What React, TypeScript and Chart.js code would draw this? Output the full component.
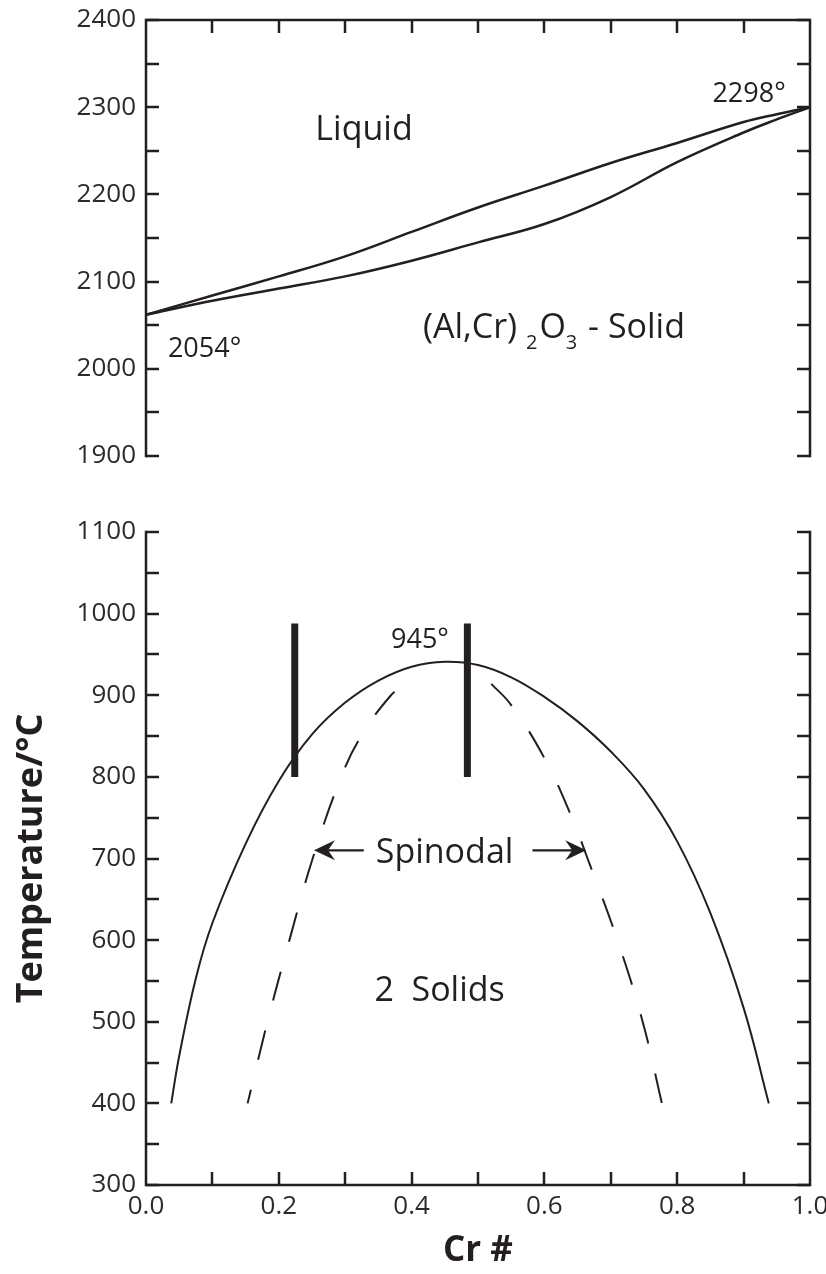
import React, { useEffect, useRef } from 'react';
import { Chart, registerables } from 'chart.js';

Chart.register(...registerables);

const INK = '#231f20';
const LABEL = '#2b2b2b';
const FONT = '"Open Sans", "DejaVu Sans", sans-serif';

// ---------- Top panel: liquidus / solidus (°C vs Cr #) ----------
const topX = [0, 0.1, 0.2, 0.3, 0.4, 0.5, 0.6, 0.7, 0.8, 0.9, 0.95, 1.0];
const liquidus = [2062, 2084, 2106, 2129, 2157, 2185, 2210, 2236, 2259, 2283, 2292, 2300];
const solidus = [2062, 2078, 2092, 2106, 2124, 2145, 2166, 2197, 2237, 2271, 2286, 2300];
const topYMin = 1900;
const topYMax = 2400;

// ---------- Bottom panel: solvus & spinodal ----------
const solvusX = [0.038, 0.05, 0.075, 0.1, 0.15, 0.2, 0.25, 0.3, 0.35, 0.4, 0.45, 0.5, 0.55, 0.6, 0.65, 0.7, 0.75, 0.8, 0.85, 0.9, 0.938];
const solvusY = [400, 458, 553, 621, 718, 795, 852, 891, 918, 935, 941, 937, 922, 898, 868, 831, 785, 721, 633, 517, 400];
const spinodalLeftX = [0.153, 0.183, 0.216, 0.251, 0.294, 0.324, 0.369, 0.392];
const spinodalLeftY = [400, 500, 600, 700, 800, 850, 900, 914];
const spinodalRightX = [0.52, 0.55, 0.6, 0.64, 0.665, 0.71, 0.748, 0.777];
const spinodalRightY = [914, 888, 823, 753, 700, 600, 500, 400];
const markerX = [0.224, 0.484];
const markerY = [800, 988];
const botYMin = 300;
const botYMax = 1100;

// arrows of the "Spinodal" label: [tail, tip]
const arrowLevel = 710;
const arrowLeft = [0.328, 0.253];
const arrowRight = [0.582, 0.663];

const xMin = 0;
const xMax = 1;
const xMinorStep = 0.1;
const xLabelStep = 0.2;
const yLabelStep = 100;
const yMinorStep = 50;

type Part = { t: string; sub?: boolean };
type Note = { parts: Part[]; x: number; y: number; size: number };

const topNotes: Note[] = [
  { parts: [{ t: 'Liquid' }], x: 0.255, y: 2262, size: 34 },
  {
    parts: [{ t: '(Al,Cr) ' }, { t: '2', sub: true }, { t: 'O' }, { t: '3', sub: true }, { t: ' - Solid' }],
    x: 0.417, y: 2035, size: 34,
  },
  { parts: [{ t: '2054°' }], x: 0.033, y: 2013, size: 27 },
  { parts: [{ t: '2298°' }], x: 0.853, y: 2306, size: 27 },
];

const botNotes: Note[] = [
  { parts: [{ t: '945°' }], x: 0.369, y: 958, size: 27 },
  { parts: [{ t: 'Spinodal' }], x: 0.346, y: 694, size: 34 },
  { parts: [{ t: '2  Solids' }], x: 0.344, y: 525, size: 34 },
];

const pts = (xs: number[], ys: number[]) => xs.map((x, i) => ({ x, y: ys[i] }));

const TICK_LEN = 13;

const framePlugin = {
  id: 'frame',
  afterDraw(chart: any, _args: any, opts: any) {
    const { ctx, chartArea } = chart;
    const { left, right, top, bottom } = chartArea;
    const xs = chart.scales.x;
    const ys = chart.scales.y;
    ctx.save();
    ctx.strokeStyle = INK;
    ctx.lineWidth = 2.5;
    ctx.lineCap = 'square';
    ctx.beginPath();
    ctx.moveTo(left, top);
    ctx.lineTo(left, bottom);
    ctx.moveTo(right, top);
    ctx.lineTo(right, bottom);
    if (opts.edge === 'top') {
      ctx.moveTo(left, top);
      ctx.lineTo(right, top);
    } else {
      ctx.moveTo(left, bottom);
      ctx.lineTo(right, bottom);
    }
    ctx.stroke();
    ctx.lineCap = 'butt';
    ctx.beginPath();
    for (let v = ys.min; v <= ys.max + 1e-6; v += yMinorStep) {
      const p = Math.round(ys.getPixelForValue(v));
      ctx.moveTo(left, p);
      ctx.lineTo(left + TICK_LEN, p);
      ctx.moveTo(right, p);
      ctx.lineTo(right - TICK_LEN, p);
    }
    for (let i = 1; i < Math.round((xMax - xMin) / xMinorStep); i++) {
      const p = Math.round(xs.getPixelForValue(xMin + i * xMinorStep));
      if (opts.edge === 'top') {
        ctx.moveTo(p, top);
        ctx.lineTo(p, top + TICK_LEN);
      } else {
        ctx.moveTo(p, bottom);
        ctx.lineTo(p, bottom - TICK_LEN);
      }
    }
    ctx.stroke();
    ctx.restore();
  },
};

const notesPlugin = {
  id: 'notes',
  afterDatasetsDraw(chart: any, _args: any, opts: any) {
    const { ctx } = chart;
    const xs = chart.scales.x;
    const ys = chart.scales.y;
    ctx.save();
    ctx.fillStyle = INK;
    ctx.textBaseline = 'alphabetic';
    ctx.textAlign = 'left';
    (opts.notes as Note[]).forEach((n) => {
      let px = xs.getPixelForValue(n.x);
      const py = ys.getPixelForValue(n.y);
      n.parts.forEach((p) => {
        const size = p.sub ? Math.round(n.size * 0.6) : n.size;
        ctx.font = `${size}px ${FONT}`;
        ctx.fillText(p.t, px, py + (p.sub ? n.size * 0.32 : 0));
        px += ctx.measureText(p.t).width + (p.sub ? 2 : 0);
      });
    });
    ctx.restore();
  },
};

const arrowPlugin = {
  id: 'arrows',
  afterDatasetsDraw(chart: any, _args: any, opts: any) {
    if (!opts.show) return;
    const { ctx } = chart;
    const xs = chart.scales.x;
    const ys = chart.scales.y;
    const py = ys.getPixelForValue(arrowLevel);
    ctx.save();
    ctx.strokeStyle = INK;
    ctx.fillStyle = INK;
    ctx.lineWidth = 2.2;
    [arrowLeft, arrowRight].forEach(([tail, tip]) => {
      const x0 = xs.getPixelForValue(tail);
      const x1 = xs.getPixelForValue(tip);
      const dir = Math.sign(x1 - x0);
      ctx.beginPath();
      ctx.moveTo(x0, py);
      ctx.lineTo(x1 - dir * 10, py);
      ctx.stroke();
      ctx.beginPath();
      ctx.moveTo(x1, py);
      ctx.lineTo(x1 - dir * 21, py - 10);
      ctx.lineTo(x1 - dir * 14, py);
      ctx.lineTo(x1 - dir * 21, py + 10);
      ctx.closePath();
      ctx.fill();
    });
    ctx.restore();
  },
};

const tickFont = { family: FONT, size: 26 };

function yScale(min: number, max: number, title?: any) {
  return {
    type: 'linear' as const,
    min,
    max,
    position: 'left' as const,
    grid: { display: false, drawTicks: false, tickLength: 0 },
    border: { display: false },
    ticks: {
      stepSize: yLabelStep,
      color: LABEL,
      font: tickFont,
      padding: 10,
      autoSkip: false,
      callback: (v: any) => String(v),
    },
    title: title ?? { display: false },
    afterFit(s: any) {
      s.width = 146;
      s.paddingTop = 0;
      s.paddingBottom = 0;
    },
  };
}

export default function App() {
  const topRef = useRef<HTMLCanvasElement>(null);
  const botRef = useRef<HTMLCanvasElement>(null);

  useEffect(() => {
    const line = (data: any[], width: number, extra: any = {}) => ({
      data,
      borderColor: INK,
      borderWidth: width,
      pointRadius: 0,
      fill: false,
      tension: 0.4,
      ...extra,
    });

    const topChart = new Chart(topRef.current!, {
      type: 'line',
      data: {
        datasets: [line(pts(topX, liquidus), 2.5), line(pts(topX, solidus), 2.5)] as any,
      },
      options: {
        responsive: false,
        animation: false,
        events: [],
        layout: { padding: { left: 0, right: 16, top: 20, bottom: 18 } },
        plugins: {
          legend: { display: false },
          tooltip: { enabled: false },
          frame: { edge: 'top' },
          notes: { notes: topNotes },
          arrows: { show: false },
        } as any,
        scales: {
          x: { type: 'linear', min: xMin, max: xMax, display: false },
          y: yScale(topYMin, topYMax) as any,
        },
      },
      plugins: [framePlugin, notesPlugin, arrowPlugin],
    });

    const botChart = new Chart(botRef.current!, {
      type: 'line',
      data: {
        datasets: [
          line(pts(solvusX, solvusY), 2),
          line(pts(spinodalLeftX, spinodalLeftY), 2, { borderDash: [30, 31], borderDashOffset: 16 }),
          line(pts(spinodalRightX, spinodalRightY), 2, { borderDash: [30, 31] }),
          line(pts([markerX[0], markerX[0]], markerY), 7, { borderCapStyle: 'butt', tension: 0 }),
          line(pts([markerX[1], markerX[1]], markerY), 7, { borderCapStyle: 'butt', tension: 0 }),
        ] as any,
      },
      options: {
        responsive: false,
        animation: false,
        events: [],
        layout: { padding: { left: 0, right: 16, top: 62, bottom: 0 } },
        plugins: {
          legend: { display: false },
          tooltip: { enabled: false },
          frame: { edge: 'bottom' },
          notes: { notes: botNotes },
          arrows: { show: true },
        } as any,
        scales: {
          x: {
            type: 'linear',
            min: xMin,
            max: xMax,
            grid: { display: false, drawTicks: false, tickLength: 0 },
            border: { display: false },
            ticks: {
              stepSize: xLabelStep,
              color: LABEL,
              font: tickFont,
              padding: 6,
              maxRotation: 0,
              autoSkip: false,
              callback: (v: any) => Number(v).toFixed(1),
            },
            title: {
              display: true,
              text: 'Cr #',
              color: INK,
              font: { family: FONT, size: 35, weight: 'bold' },
              padding: { top: 0, bottom: 2 },
            },
            afterFit(s: any) {
              s.height = 89;
              s.paddingLeft = 0;
              s.paddingRight = 0;
            },
          } as any,
          y: yScale(botYMin, botYMax, {
            display: true,
            text: 'Temperature/°C',
            color: INK,
            font: { family: FONT, size: 36, weight: 'bold' },
            padding: { top: 10, bottom: 0 },
          }) as any,
        },
      },
      plugins: [framePlugin, notesPlugin, arrowPlugin],
    });

    return () => {
      topChart.destroy();
      botChart.destroy();
    };
  }, []);

  return (
    <div style={{ position: 'absolute', left: 0, top: 0, width: 826, height: 1274, background: '#fff', overflow: 'hidden' }}>
      <canvas ref={topRef} width={826} height={474} style={{ position: 'absolute', left: 0, top: 0 }} />
      <canvas ref={botRef} width={826} height={804} style={{ position: 'absolute', left: 0, top: 470 }} />
    </div>
  );
}
